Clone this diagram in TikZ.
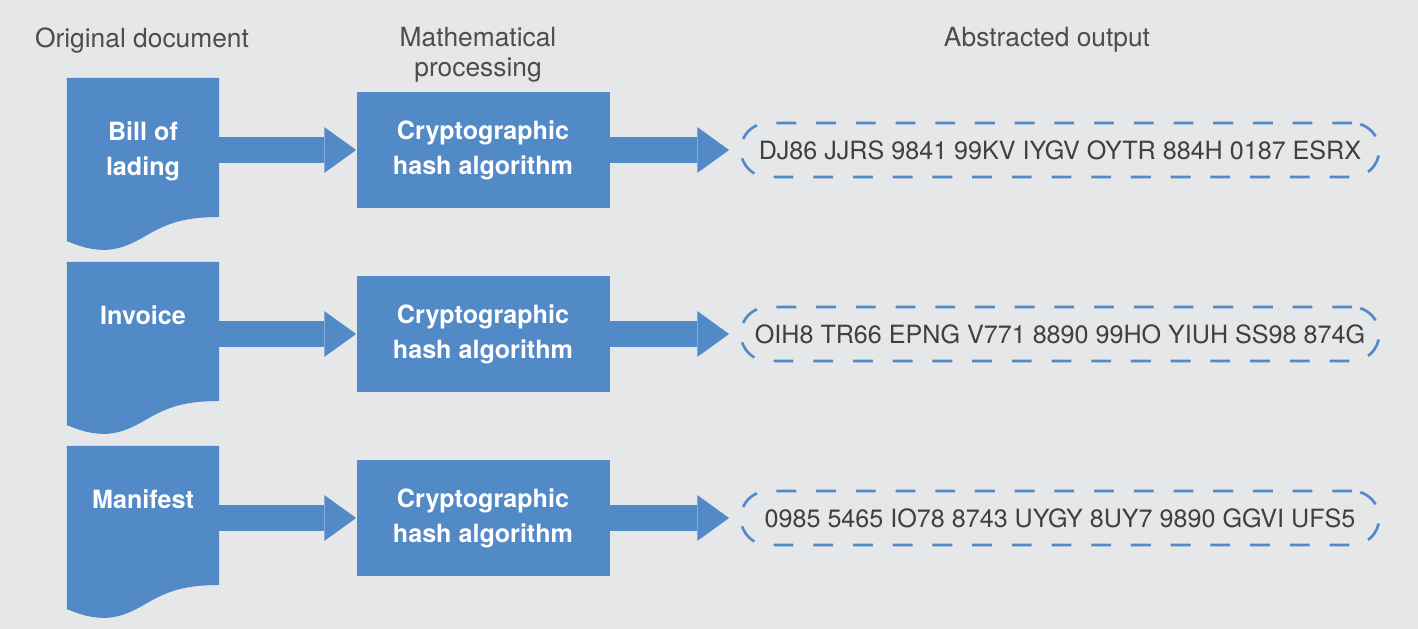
\documentclass[tikz,border=0pt]{standalone}
\usepackage{fontspec}
\setmainfont{TeX Gyre Heros}
\usetikzlibrary{calc}
\usetikzlibrary{arrows.meta}
\definecolor{docblue}{HTML}{528AC8}
\definecolor{panelgray}{HTML}{E6E7E9}
\definecolor{headgray}{HTML}{4D4D4D}
\definecolor{codegray}{HTML}{404040}

\tikzset{
  heading/.style={font=\fontsize{15}{17}\selectfont, text=headgray,
    align=center, anchor=north, inner sep=0pt},
  docpage/.style={minimum width=86.2pt, minimum height=78.8pt, inner sep=0pt},
  doclabel/.style={font=\fontsize{14.3}{19.8}\selectfont\bfseries, text=white,
    align=center, anchor=north, inner sep=0pt},
  hashbox/.style={fill=docblue, minimum width=144pt, minimum height=65.8pt,
    inner sep=0pt, font=\fontsize{14.3}{19.8}\selectfont\bfseries,
    text=white, align=center},
  digest/.style={draw=docblue, line width=1.5pt, dash pattern=on 11.3pt off 11.3pt,
    rounded corners=15.4pt, minimum width=363.4pt, minimum height=30.8pt,
    inner sep=0pt, text=codegray, font=\fontsize{14.3}{17}\selectfont},
  fatarrow/.style={draw=docblue, line width=14.7pt,
    -{Triangle[width=26.1pt, length=18.1pt, line width=0pt]}}
}

\begin{document}
\begin{tikzpicture}[x=0.02cm, y=-0.02cm]
  \fill[panelgray] (0,0) rectangle (1418,629);
  \useasboundingbox (0,0) rectangle (1418,629);

  % column headings
  \node[heading] (hdoc)  at (142,27)  {Original document};
  \node[heading] (hmath) at (478,27)  {Mathematical\\processing};
  \node[heading] (hout)  at (1047,27) {Abstracted output};

  \foreach \doc/\code [count=\i from 0] in
    {{Bill of\\lading}/{DJ86 JJRS 9841 99KV IYGV OYTR 884H 0187 ESRX},
     {Invoice}/{OIH8 TR66 EPNG V771 8890 99HO YIUH SS98 874G},
     {Manifest}/{0985 5465 IO78 8743 UYGY 8UY7 9890 GGVI UFS5}}
  {
    % document page with wavy bottom
    \node[docpage] (doc\i) at (143,147.5+184*\i) {};
    \fill[docblue] (doc\i.north west) -- (doc\i.north east) -- (doc\i.south east)
      .. controls ($(doc\i.south east)+(-35,0)$) and ($(doc\i.south east)+(-51,6)$)
      .. ($(doc\i.south east)+(-72,18)$)
      .. controls ($(doc\i.south east)+(-96,32)$) and ($(doc\i.south east)+(-115,40)$)
      .. ($(doc\i.south west)+(0,24)$) -- cycle;
    \node[doclabel] (lab\i) at ($(doc\i.north)+(0,44)$) {\doc};

    \node[hashbox] (hash\i) at (483,150+184*\i) {Cryptographic\\hash algorithm};
    \node[digest] (out\i) at (1060,150+184*\i) {\code};

    \draw[fatarrow] (doc\i.east |- hash\i.west) -- (hash\i.west);
    \draw[fatarrow, shorten >=5.9pt] (hash\i.east) -- (out\i.west);
  }
\end{tikzpicture}
\end{document}
